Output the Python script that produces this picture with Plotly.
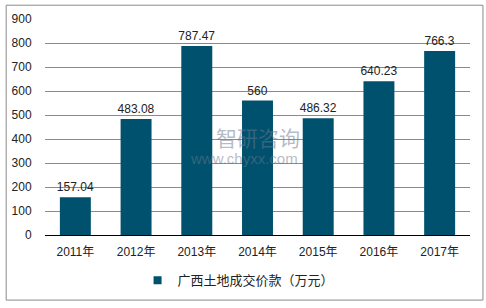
import plotly.graph_objects as go

years = ["2011年", "2012年", "2013年", "2014年", "2015年", "2016年", "2017年"]
values = [157.04, 483.08, 787.47, 560, 486.32, 640.23, 766.3]
labels = ["157.04", "483.08", "787.47", "560", "486.32", "640.23", "766.3"]
series_name = "广西土地成交价款（万元）"
yticks = [0, 100, 200, 300, 400, 500, 600, 700, 800, 900]

FONT = "Arial, 'Liberation Sans', 'Noto Sans CJK SC', sans-serif"
BAR = "#00516E"

fig = go.Figure()
fig.add_trace(go.Bar(
    x=years, y=values, name=series_name,
    marker=dict(color=BAR, line=dict(width=0)),
    text=labels, textposition="outside", cliponaxis=False,
    textfont=dict(size=12, color="#222222", family=FONT),
    showlegend=False,
))
fig.add_trace(go.Scatter(
    x=[None], y=[None], mode="markers", name=series_name,
    marker=dict(symbol="square", size=8, color=BAR),
    showlegend=True,
))

W, H = 486, 308
L, R, T, B = 43, 16, 18, 71
pw, ph = W - L - R, H - T - B

def px(x):
    return (x - L) / pw

def py(y):
    return (H - B - y) / ph

fig.update_layout(
    width=W, height=H,
    margin=dict(l=L, r=R, t=T, b=B, pad=0),
    paper_bgcolor="white", plot_bgcolor="white",
    font=dict(family=FONT, size=12, color="#222222"),
    bargap=0.49,
    uniformtext=dict(mode="show", minsize=12),
    xaxis=dict(showgrid=False, showline=True, linecolor="#000000", linewidth=1,
               ticks="outside", ticklen=6, tickcolor="rgba(0,0,0,0)",
               tickfont=dict(size=12, color="#222222")),
    yaxis=dict(range=[0, 900], tickvals=yticks, showgrid=True, gridcolor="#8a8a8a",
               gridwidth=1, zeroline=False, showline=False,
               ticks="outside", ticklen=10, tickcolor="rgba(0,0,0,0)",
               tickfont=dict(size=12, color="#222222")),
    legend=dict(orientation="h", x=px(136), y=py(283), xanchor="left", yanchor="middle",
                font=dict(size=13, color="#222222"), itemwidth=30,
                bgcolor="rgba(0,0,0,0)"),
    shapes=[dict(type="rect", xref="paper", yref="paper",
                 x0=px(4), x1=px(483), y0=py(303), y1=py(4),
                 line=dict(color="#8a8a8a", width=1), fillcolor="rgba(0,0,0,0)",
                 layer="below")],
    annotations=[
        dict(text="智研咨询", xref="paper", yref="paper", x=px(257), y=py(139),
             showarrow=False, borderpad=0,
             font=dict(size=21, color="rgba(110,120,140,0.5)", family=FONT)),
        dict(text="www.chyxx.com", xref="paper", yref="paper", x=px(243), y=py(169),
             showarrow=False, borderpad=0,
             font=dict(size=15, color="rgba(110,120,140,0.5)", family=FONT)),
    ],
)

fig.write_html("out.html")
